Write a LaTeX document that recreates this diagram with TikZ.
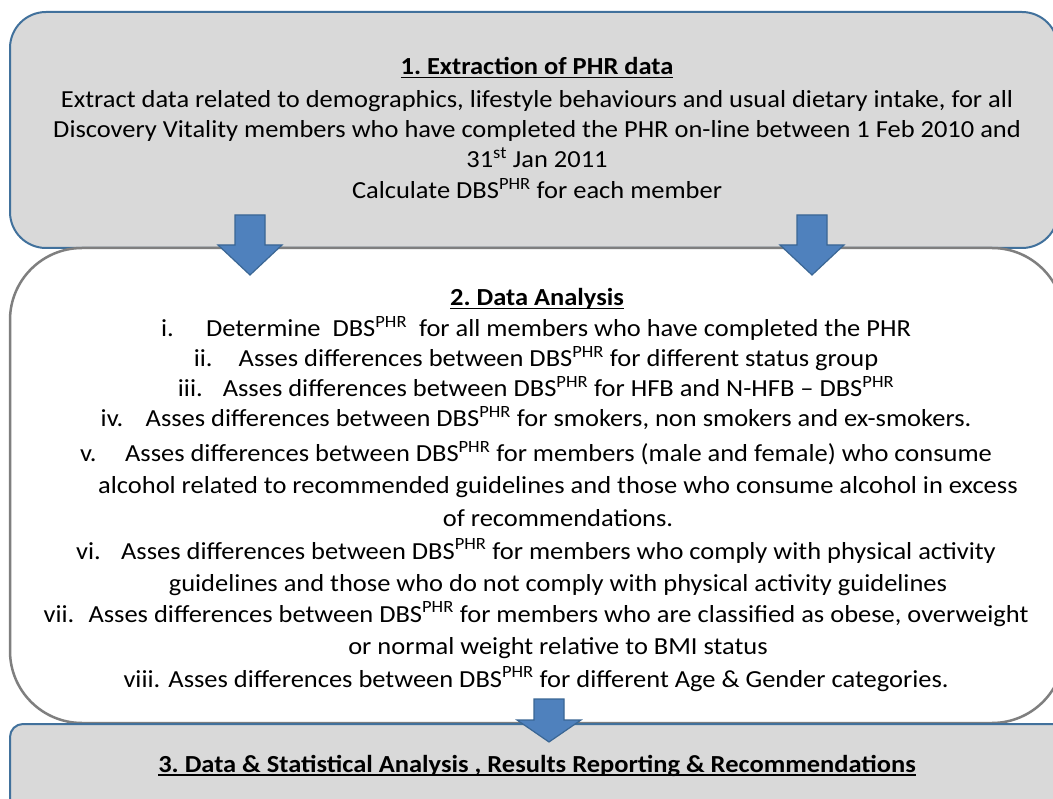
\documentclass[tikz,border=0pt]{standalone}
\usepackage{fontspec}
\setmainfont[FakeStretch=1.08]{Carlito}
\frenchspacing
\definecolor{boxgray}{HTML}{D9D9D9}
\definecolor{boxblue}{HTML}{41719C}
\definecolor{arrowfill}{HTML}{4F81BD}
\definecolor{arrowline}{HTML}{3A6694}
\definecolor{greyline}{HTML}{7F7F7F}
\newlength\ulw
\newcommand\myul[1]{\settowidth\ulw{#1}\rlap{\rule[-3.5pt]{\ulw}{1.8pt}}#1}
\newcommand\sps[1]{\textsuperscript{#1}}
\newcommand\dbs{DBS\sps{PHR}}
\newcommand\li[2]{\makebox[45pt][l]{#1}#2}
\newcommand\blockarrow[5]{%
  \path[arrowstyle] ({#2-15},#3) -- ({#2+15},#3) -- ({#2+15},#4) -- ({#2+32},#4)
    -- (#2,#5) coordinate (#1) -- ({#2-32},#4) -- ({#2-15},#4) -- cycle;}
\begin{document}
\begin{tikzpicture}[x=1pt,y=-1pt,
  txt/.style={anchor=base, inner sep=0pt, font=\fontsize{24.5}{29}\selectfont},
  ttl/.style={txt, font=\fontsize{24.5}{29}\selectfont\bfseries},
  graybox/.style={draw=boxblue, fill=boxgray, line width=2pt},
  whitebox/.style={draw=greyline, fill=white, line width=2.5pt},
  arrowstyle/.style={draw=arrowline, fill=arrowfill, line width=1.2pt, line join=miter}]
\useasboundingbox (0,0) rectangle (1053,799);
\clip (0,0) rectangle (1053,799);
% boxes
\path[graybox, rounded corners=36pt] (10,12) rectangle (1058,248);
\path[whitebox, rounded corners=72pt] (10,248) rectangle (1064,723);
\path[graybox, rounded corners=13pt] (10,724) rectangle (1066,840);
% arrows
\blockarrow{a1}{250}{215}{245}{275}
\blockarrow{a2}{812}{215}{245}{275}
\blockarrow{a3}{549}{699}{720}{742}
% box 1 text
\node[ttl] (t1) at (537,75) {\myul{1. Extraction of PHR data}};
\node[txt] (l1) at (537,108) {Extract data related to demographics, lifestyle behaviours and usual dietary intake, for all};
\node[txt] (l2) at (537,138) {Discovery Vitality members who have completed the PHR on-line between 1 Feb 2010 and};
\node[txt] (l3) at (537,168) {31\sps{st} Jan 2011};
\node[txt] (l4) at (537,199) {Calculate \dbs{} for each member};
% box 2 text
\node[ttl] (t2) at (537,306) {\myul{2. Data Analysis}};
\node[txt] (i1) at (536,337) {\li{i.}{Determine\ \ \dbs\ \ for all members who have completed the PHR}};
\node[txt] (i2) at (536,367) {\li{ii.}{Asses differences between \dbs{} for different status group}};
\node[txt] (i3) at (536,397) {\li{iii.}{Asses differences between \dbs{} for HFB and N-HFB – \dbs}};
\node[txt] (i4) at (536,427) {\li{iv.}{Asses differences between \dbs{} for smokers, non smokers and ex-smokers.}};
\node[txt] (i5) at (536,462) {\li{v.}{Asses differences between \dbs{} for members (male and female) who consume}};
\node[txt] (i5b) at (558,494) {alcohol related to recommended guidelines and those who consume alcohol in excess};
\node[txt] (i5c) at (558,527) {of recommendations.};
\node[txt] (i6) at (536,559) {\li{vi.}{Asses differences between \dbs{} for members who comply with physical activity}};
\node[txt] (i6b) at (558,591) {guidelines and those who do not comply with physical activity guidelines};
\node[txt] (i7) at (536,622) {\li{vii.}{Asses differences between \dbs{} for members who are classified as obese, overweight}};
\node[txt] (i7b) at (558,654) {or normal weight relative to BMI status};
\node[txt] (i8) at (536,687) {\li{viii.}{Asses differences between \dbs{} for different Age \& Gender categories.}};
% box 3 text
\node[ttl] (t3) at (537,772) {\myul{3. Data \& Statistical Analysis , Results Reporting \& Recommendations}};
\end{tikzpicture}
\end{document}
